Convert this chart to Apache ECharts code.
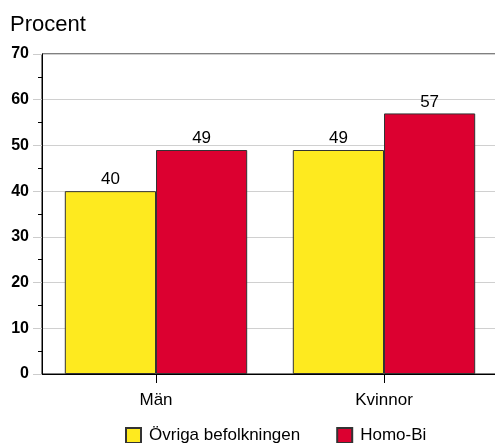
<!DOCTYPE html>
<html><head><meta charset="utf-8">
<script src="https://cdn.jsdelivr.net/npm/echarts@6/dist/echarts.min.js"></script>
<style>html,body{margin:0;padding:0;background:#fff}#c{width:495px;height:443px}</style>
</head><body><div id="c"></div>
<script>
var categories = ['Män', 'Kvinnor'];
var seriesNames = ['Övriga befolkningen', 'Homo-Bi'];
var ovriga = [40, 49];
var homoBi = [49, 57];
var yTicks = [0, 10, 20, 30, 40, 50, 60, 70];

var FONT = '"Liberation Sans", Arial, sans-serif';
var chart = echarts.init(document.getElementById('c'), null, {renderer: 'canvas'});
var labelStyle = {show: true, position: 'top', distance: 3, color: '#000', fontSize: 17, fontFamily: FONT};
chart.setOption({
  animation: false,
  textStyle: {fontFamily: FONT},
  title: {text: 'Procent', left: 5, top: 9, textStyle: {fontSize: 22, fontWeight: 'normal', color: '#000', fontFamily: FONT}},
  grid: {left: 42, width: 456, top: 54, height: 320, outerBoundsMode: 'none', containLabel: false,
         show: true, borderColor: '#000', borderWidth: 1, backgroundColor: 'transparent'},
  legend: {
    top: 422, left: 120, itemWidth: 15, itemHeight: 15, itemGap: 36,
    icon: 'rect',
    textStyle: {fontSize: 17, color: '#000', fontFamily: FONT, padding: [0, 0, 0, 3]},
    data: seriesNames
  },
  xAxis: {
    type: 'category', data: categories,
    axisLine: {lineStyle: {color: '#000', width: 1}},
    axisTick: {show: true, alignWithLabel: true, length: 9, lineStyle: {color: '#000'}},
    axisLabel: {fontSize: 17, color: '#000', margin: 18, fontFamily: FONT}
  },
  yAxis: {
    type: 'value', min: yTicks[0], max: yTicks[yTicks.length - 1], interval: 10,
    axisLine: {show: true, lineStyle: {color: '#000', width: 1}},
    axisTick: {show: true, length: 9, lineStyle: {color: '#ccc'}},
    minorTick: {show: true, splitNumber: 2, length: 4, lineStyle: {color: '#000'}},
    splitLine: {show: true, lineStyle: {color: '#d0d0d0', width: 1}},
    axisLabel: {fontSize: 16, fontWeight: 'bold', color: '#000', margin: 13, fontFamily: FONT}
  },
  series: [
    {name: seriesNames[0], type: 'bar', data: ovriga, barWidth: '40%', barGap: '0%',
     itemStyle: {color: '#FEEA1F', borderColor: '#333', borderWidth: 1}, label: labelStyle},
    {name: seriesNames[1], type: 'bar', data: homoBi, barWidth: '40%', barGap: '0%',
     itemStyle: {color: '#DC0030', borderColor: '#333', borderWidth: 1}, label: labelStyle}
  ]
});
</script></body></html>
